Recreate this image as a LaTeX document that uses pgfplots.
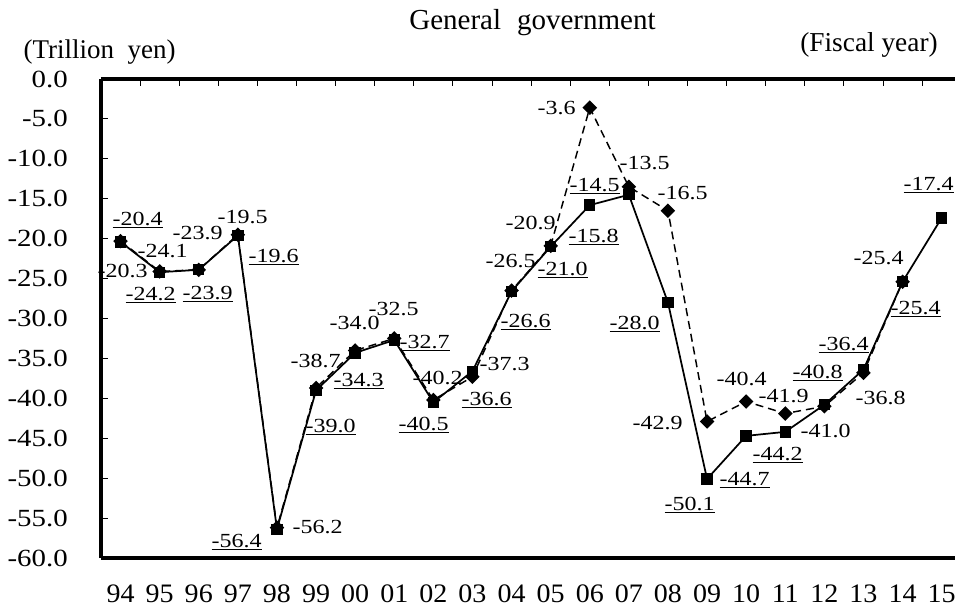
\documentclass[border=0pt]{standalone}
\usepackage{pgfplots}
\pgfplotsset{compat=1.18}
\usepackage{fontspec}
\setmainfont{Liberation Serif}
\newfontfamily\lblfont{Liberation Serif}[FakeStretch=1.2]
\newfontfamily\ytfont{Liberation Serif}[FakeStretch=1.17]
\newfontfamily\xtfont{Liberation Serif}[FakeStretch=1.05]
\newcommand\lb[1]{{\lblfont\fontsize{15}{15}\selectfont #1}}
\newcommand\ul[1]{\underline{#1}}

\pgfplotstableread{
x y
0 -20.4
1 -24.2
2 -23.9
3 -19.6
4 -56.4
5 -39.0
6 -34.3
7 -32.7
8 -40.5
9 -36.6
10 -26.6
11 -21.0
12 -15.8
13 -14.5
14 -28.0
15 -50.1
16 -44.7
17 -44.2
18 -40.8
19 -36.4
20 -25.4
21 -17.4
}\solidtab

\pgfplotstableread{
x y
0 -20.3
1 -24.1
2 -23.9
3 -19.5
4 -56.2
5 -38.7
6 -34.0
7 -32.5
8 -40.2
9 -37.3
10 -26.5
11 -20.9
12 -3.6
13 -13.5
14 -16.5
15 -42.9
16 -40.4
17 -41.9
18 -41.0
19 -36.8
20 -25.4
}\dashtab

\begin{document}
\begin{tikzpicture}
\begin{axis}[
  at={(0,0)}, anchor=south west,
  scale only axis, width=645.15pt, height=359.25pt,
  xmin=-0.5, xmax=21.5, ymin=-60, ymax=0,
  axis x line=box, axis y line=left,
  axis line style={-, line width=2.5pt},
  every outer x axis line/.append style={-},
  every outer y axis line/.append style={-},
  clip=false,
  xtick={0.5,1.5,...,20.5},
  xticklabels={},
  extra x ticks={0,1,...,21},
  extra x tick labels={94,95,96,97,98,99,00,01,02,03,04,05,06,07,08,09,10,11,12,13,14,15},
  extra x tick style={major tick length=0pt},
  xtick pos=right, xticklabel pos=left,
  ytick={-60,-55,...,0},
  yticklabels={-60.0,-55.0,-50.0,-45.0,-40.0,-35.0,-30.0,-25.0,-20.0,-15.0,-10.0,-5.0,0.0},
  ytick pos=left,
  tick align=inside,
  major tick length=5pt,
  every tick/.style={black, line width=0.75pt},
  yticklabel style={font=\ytfont\fontsize{18.5}{18.5}\selectfont, anchor=east, inner sep=0pt, xshift=-24.75pt},
  xticklabel style={font=\xtfont\fontsize{20}{20}\selectfont, anchor=base, inner sep=0pt, yshift=-33.5pt},
]
\addplot[black, line width=1.1pt, dash pattern=on 6pt off 3.75pt, mark=square*, mark size=3.3pt, mark options={solid, rotate=45, fill=black}] table[x=x,y=y]{\dashtab};
\addplot[black, line width=1.3pt, mark=square*, mark size=3.6pt, mark options={solid, fill=black}] table[x=x,y=y]{\solidtab};

\node[anchor=base] at (axis cs:0.435,-18.30) {\lb{\ul{-20.4}}};
\node[anchor=base] at (axis cs:0.056,-24.81) {\lb{-20.3}};
\node[anchor=base] at (axis cs:1.074,-22.31) {\lb{-24.1}};
\node[anchor=base] at (axis cs:0.767,-27.69) {\lb{\ul{-24.2}}};
\node[anchor=base] at (axis cs:1.969,-20.05) {\lb{-23.9}};
\node[anchor=base] at (axis cs:2.225,-27.57) {\lb{\ul{-23.9}}};
\node[anchor=base] at (axis cs:3.120,-18.04) {\lb{-19.5}};
\node[anchor=base] at (axis cs:3.913,-22.93) {\lb{\ul{-19.6}}};
\node[anchor=base] at (axis cs:2.967,-58.65) {\lb{\ul{-56.4}}};
\node[anchor=base] at (axis cs:5.038,-56.89) {\lb{-56.2}};
\node[anchor=base] at (axis cs:4.987,-36.09) {\lb{-38.7}};
\node[anchor=base] at (axis cs:5.371,-44.23) {\lb{\ul{-39.0}}};
\node[anchor=base] at (axis cs:5.985,-31.33) {\lb{-34.0}};
\node[anchor=base] at (axis cs:6.087,-38.47) {\lb{\ul{-34.3}}};
\node[anchor=base] at (axis cs:6.982,-29.57) {\lb{-32.5}};
\node[anchor=base] at (axis cs:7.775,-33.71) {\lb{\ul{-32.7}}};
\node[anchor=base] at (axis cs:8.107,-38.22) {\lb{-40.2}};
\node[anchor=base] at (axis cs:7.749,-43.98) {\lb{\ul{-40.5}}};
\node[anchor=base] at (axis cs:9.821,-36.47) {\lb{-37.3}};
\node[anchor=base] at (axis cs:9.361,-40.85) {\lb{\ul{-36.6}}};
\node[anchor=base] at (axis cs:9.974,-23.56) {\lb{-26.5}};
\node[anchor=base] at (axis cs:10.358,-31.08) {\lb{\ul{-26.6}}};
\node[anchor=base] at (axis cs:10.486,-18.80) {\lb{-20.9}};
\node[anchor=base] at (axis cs:11.304,-24.56) {\lb{\ul{-21.0}}};
\node[anchor=base] at (axis cs:11.151,-4.39) {\lb{-3.6}};
\node[anchor=base] at (axis cs:12.097,-20.43) {\lb{\ul{-15.8}}};
\node[anchor=base] at (axis cs:13.402,-11.28) {\lb{-13.5}};
\node[anchor=base] at (axis cs:12.123,-14.03) {\lb{\ul{-14.5}}};
\node[anchor=base] at (axis cs:14.373,-15.04) {\lb{-16.5}};
\node[anchor=base] at (axis cs:13.146,-31.33) {\lb{\ul{-28.0}}};
\node[anchor=base] at (axis cs:13.734,-43.86) {\lb{-42.9}};
\node[anchor=base] at (axis cs:14.552,-54.01) {\lb{\ul{-50.1}}};
\node[anchor=base] at (axis cs:15.882,-38.34) {\lb{-40.4}};
\node[anchor=base] at (axis cs:15.959,-50.88) {\lb{\ul{-44.7}}};
\node[anchor=base] at (axis cs:16.957,-40.48) {\lb{-41.9}};
\node[anchor=base] at (axis cs:16.803,-47.74) {\lb{\ul{-44.2}}};
\node[anchor=base] at (axis cs:18.031,-44.86) {\lb{-41.0}};
\node[anchor=base] at (axis cs:17.826,-37.47) {\lb{\ul{-40.8}}};
\node[anchor=base] at (axis cs:19.437,-40.73) {\lb{-36.8}};
\node[anchor=base] at (axis cs:18.491,-33.96) {\lb{\ul{-36.4}}};
\node[anchor=base] at (axis cs:19.386,-23.18) {\lb{-25.4}};
\node[anchor=base] at (axis cs:20.332,-29.45) {\lb{\ul{-25.4}}};
\node[anchor=base] at (axis cs:20.665,-13.91) {\lb{\ul{-17.4}}};
\end{axis}
\node[anchor=base, font=\fontsize{21.75}{22}\selectfont] at (323.6pt,396pt) {General\hspace{0.55em}government};
\node[anchor=base, font=\fontsize{20.25}{21}\selectfont] at (-1.1pt,374.25pt) {(Trillion\hspace{0.5em}yen)};
\node[anchor=base, font=\fontsize{20.5}{21}\selectfont] at (576pt,379.5pt) {(Fiscal year)};
\pgfresetboundingbox
\path (-75.75pt,-36.75pt) rectangle (640.5pt,418.5pt);
\end{tikzpicture}
\end{document}
